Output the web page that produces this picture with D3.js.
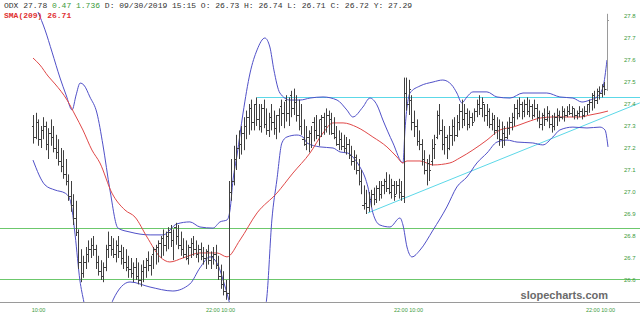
<!DOCTYPE html>
<html><head><meta charset="utf-8">
<script src="https://cdn.jsdelivr.net/npm/d3@7"></script>
<style>html,body{margin:0;padding:0;background:#fff;overflow:hidden}svg{display:block}</style>
</head><body>
<svg id="c" width="640" height="321"></svg>
<script>
// ---- data ----
const highs = [27.35,27.36,27.33,27.30,27.34,27.32,27.29,27.33,27.30,27.26,27.24,27.20,27.19,27.15,27.08,27.05,26.99,26.96,26.83,26.74,
26.71,26.75,26.78,26.79,26.80,26.76,26.71,26.69,26.68,26.76,26.82,26.80,26.79,26.78,26.80,26.76,26.75,26.74,26.71,26.70,
26.68,26.70,26.68,26.67,26.69,26.70,26.73,26.71,26.75,26.76,26.78,26.80,26.83,26.82,26.84,26.85,26.83,26.86,26.85,26.82,
26.79,26.78,26.76,26.79,26.80,26.78,26.76,26.77,26.75,26.74,26.76,26.73,26.75,26.76,26.71,26.67,26.64,26.60,27.05,27.15,
27.21,27.26,27.28,27.30,27.34,27.37,27.40,27.42,27.40,27.43,27.40,27.40,27.42,27.38,27.36,27.40,27.37,27.35,27.38,27.42,
27.41,27.44,27.43,27.46,27.47,27.44,27.42,27.40,27.33,27.30,27.28,27.30,27.34,27.35,27.33,27.35,27.36,27.38,27.37,27.36,
27.34,27.30,27.28,27.27,27.26,27.25,27.24,27.21,27.19,27.17,27.15,27.10,27.03,27.01,27.00,27.01,27.02,27.03,27.05,27.05,
27.06,27.09,27.08,27.06,27.05,27.05,27.06,27.05,27.52,27.52,27.51,27.44,27.37,27.33,27.28,27.24,27.19,27.15,27.17,27.24,
27.26,27.37,27.40,27.33,27.30,27.26,27.30,27.33,27.34,27.35,27.40,27.42,27.40,27.38,27.37,27.36,27.38,27.42,27.44,27.43,
27.40,27.40,27.38,27.36,27.35,27.34,27.33,27.32,27.30,27.32,27.34,27.36,27.40,27.42,27.43,27.41,27.42,27.43,27.42,27.40,
27.42,27.40,27.37,27.36,27.38,27.39,27.37,27.35,27.36,27.38,27.37,27.39,27.38,27.39,27.40,27.39,27.38,27.37,27.39,27.38,
27.39,27.40,27.42,27.45,27.46,27.47,27.48,27.49,27.50,27.81];
const lows = [27.22,27.24,27.21,27.20,27.24,27.19,27.15,27.21,27.18,27.15,27.12,27.09,27.06,27.03,26.96,26.91,26.85,26.80,26.65,26.59,
26.61,26.65,26.68,26.70,26.71,26.65,26.62,26.60,26.59,26.64,26.70,26.71,26.70,26.68,26.70,26.67,26.65,26.64,26.61,26.61,
26.59,26.60,26.58,26.57,26.59,26.61,26.64,26.62,26.65,26.67,26.68,26.70,26.71,26.73,26.74,26.75,26.69,26.76,26.74,26.71,
26.70,26.69,26.67,26.70,26.71,26.70,26.68,26.69,26.67,26.65,26.67,26.65,26.67,26.65,26.60,26.56,26.53,26.51,26.51,26.96,
27.03,27.10,27.15,27.17,27.19,27.24,27.26,27.28,27.28,27.30,27.28,27.27,27.29,27.26,27.25,27.28,27.26,27.24,27.27,27.30,
27.29,27.32,27.30,27.34,27.35,27.32,27.28,27.26,27.21,27.19,27.18,27.20,27.23,27.24,27.21,27.25,27.26,27.27,27.26,27.26,
27.24,27.21,27.19,27.19,27.18,27.17,27.15,27.12,27.10,27.08,27.03,26.99,26.92,26.90,26.91,26.93,26.94,26.95,26.96,26.97,
26.99,27.00,26.99,26.97,26.96,26.99,26.97,26.96,26.95,27.37,27.35,27.28,27.25,27.21,27.19,27.12,27.08,27.03,27.05,27.12,
27.15,27.24,27.26,27.19,27.17,27.15,27.19,27.21,27.23,27.25,27.28,27.29,27.30,27.28,27.29,27.30,27.32,27.34,27.35,27.34,
27.32,27.30,27.29,27.28,27.26,27.24,27.21,27.20,27.21,27.24,27.26,27.28,27.30,27.33,27.34,27.33,27.34,27.35,27.34,27.33,
27.34,27.32,27.29,27.28,27.30,27.32,27.29,27.27,27.28,27.30,27.32,27.33,27.32,27.34,27.35,27.34,27.33,27.33,27.34,27.33,
27.34,27.35,27.36,27.37,27.38,27.40,27.42,27.43,27.44,27.46];
const opens = [27.30,27.25,27.32,27.24,27.28,27.30,27.22,27.27,27.25,27.20,27.18,27.14,27.12,27.08,27.05,26.98,26.94,26.88,26.82,26.68,
26.63,26.68,26.72,26.74,26.76,26.74,26.68,26.64,26.62,26.66,26.74,26.76,26.74,26.72,26.76,26.73,26.70,26.68,26.66,26.65,
26.63,26.66,26.62,26.60,26.64,26.66,26.69,26.67,26.72,26.74,26.75,26.77,26.79,26.76,26.80,26.82,26.78,26.84,26.80,26.76,
26.74,26.72,26.70,26.75,26.77,26.74,26.72,26.74,26.71,26.70,26.73,26.69,26.71,26.72,26.67,26.62,26.58,26.55,26.54,27.00,
27.05,27.15,27.20,27.22,27.27,27.30,27.34,27.38,27.32,27.40,27.33,27.30,27.38,27.31,27.28,27.34,27.32,27.29,27.35,27.39,
27.36,27.42,27.36,27.44,27.38,27.41,27.35,27.30,27.24,27.22,27.25,27.27,27.32,27.28,27.26,27.33,27.34,27.30,27.35,27.33,
27.27,27.25,27.22,27.24,27.21,27.20,27.22,27.17,27.14,27.16,27.10,27.05,26.94,26.95,26.93,26.97,26.99,26.97,27.02,26.99,
27.03,27.05,27.02,27.00,27.03,26.99,27.03,27.00,26.98,27.45,27.40,27.42,27.32,27.30,27.23,27.22,27.15,27.10,27.13,27.14,
27.20,27.25,27.35,27.28,27.22,27.25,27.20,27.26,27.30,27.26,27.32,27.37,27.33,27.36,27.31,27.34,27.32,27.37,27.40,27.38,
27.40,27.35,27.37,27.31,27.33,27.28,27.30,27.24,27.27,27.25,27.29,27.32,27.34,27.38,27.36,27.40,27.37,27.40,27.37,27.39,
27.35,27.38,27.34,27.31,27.35,27.33,27.36,27.31,27.30,27.34,27.35,27.34,27.37,27.35,27.37,27.36,27.38,27.35,27.36,27.37,
27.35,27.37,27.40,27.41,27.44,27.42,27.46,27.45,27.48,27.47];
const closes = [27.25,27.32,27.24,27.28,27.30,27.22,27.27,27.25,27.20,27.18,27.14,27.12,27.08,27.05,26.98,26.94,26.88,26.82,26.68,26.63,
26.68,26.72,26.74,26.76,26.74,26.68,26.64,26.62,26.66,26.74,26.76,26.74,26.72,26.76,26.73,26.70,26.68,26.66,26.65,26.63,
26.66,26.62,26.60,26.64,26.66,26.69,26.67,26.72,26.74,26.75,26.77,26.79,26.76,26.80,26.82,26.78,26.84,26.80,26.76,26.74,
26.72,26.70,26.75,26.77,26.74,26.72,26.74,26.71,26.70,26.73,26.69,26.71,26.72,26.67,26.62,26.58,26.55,26.54,27.00,27.05,
27.15,27.20,27.22,27.27,27.30,27.34,27.38,27.32,27.40,27.33,27.30,27.38,27.31,27.28,27.34,27.32,27.29,27.35,27.39,27.36,
27.42,27.36,27.44,27.38,27.41,27.35,27.30,27.24,27.22,27.25,27.27,27.32,27.28,27.26,27.33,27.34,27.30,27.35,27.33,27.27,
27.25,27.22,27.24,27.21,27.20,27.22,27.17,27.14,27.16,27.10,27.05,26.94,26.95,26.93,26.97,26.99,26.97,27.02,26.99,27.03,
27.05,27.02,27.00,27.03,26.98,27.03,27.00,26.98,27.45,27.40,27.47,27.32,27.30,27.23,27.22,27.15,27.10,27.13,27.10,27.20,
27.22,27.35,27.28,27.22,27.25,27.20,27.26,27.30,27.26,27.32,27.37,27.33,27.36,27.31,27.34,27.32,27.37,27.40,27.38,27.41,
27.35,27.37,27.31,27.33,27.28,27.30,27.24,27.27,27.25,27.29,27.32,27.34,27.38,27.36,27.40,27.37,27.40,27.37,27.39,27.35,
27.38,27.34,27.31,27.35,27.33,27.36,27.31,27.30,27.34,27.35,27.34,27.37,27.35,27.37,27.36,27.38,27.35,27.36,27.37,27.35,
27.37,27.40,27.41,27.44,27.42,27.46,27.45,27.48,27.47,27.78];

// Bollinger bands and SMA as [bar index, value]
const upperBand = [[2,27.818],[4.8,27.737],[7.6,27.636],[10.8,27.518],[13.2,27.441],[15.6,27.373],[17.2,27.441],[18.8,27.495],[20.3,27.486],[22.7,27.432],
[25.5,27.359],[27.9,27.214],[30.7,27.009],[33.9,26.836],[38.7,26.818],[46.7,26.805],[51.9,26.805],[57.4,26.855],[62.6,26.864],[66.6,26.841],
[71.8,26.836],[74.6,26.864],[77.4,26.873],[78.6,26.918],[79.8,27.055],[81.4,27.168],[83.8,27.359],[86.6,27.541],[89.4,27.646],[92.5,27.700],
[94.5,27.659],[96.1,27.555],[98.5,27.450],[102.5,27.418],[106.5,27.418],[110.5,27.427],[115.7,27.432],[121.3,27.418],[125.2,27.373],[127.6,27.341],
[131.6,27.386],[134.4,27.427],[137.2,27.396],[139.6,27.327],[143.6,27.223],[147.6,27.132],[148.4,27.282],[150.4,27.450],[154.4,27.482],[159.6,27.500],
[163.5,27.509],[167.1,27.486],[169.1,27.450],[171.1,27.405],[173.1,27.432],[175.5,27.455],[181.1,27.455],[185.1,27.432],[190.3,27.427],[195.5,27.450],
[205.0,27.450],[210.2,27.432],[215.4,27.427],[219.0,27.409],[222.2,27.418],[225.0,27.432],[227.4,27.477],[229.0,27.600]];
const lowerBand = [[0,27.145],[4.8,27.032],[8.8,27.009],[12.8,26.995],[14.8,26.964],[15.6,26.918],[16.8,26.805],[18.7,26.600],[20.3,26.500],[22.7,26.373],
[26.7,26.305],[29.9,26.418],[31.9,26.509],[38.7,26.591],[46.7,26.568],[55.8,26.550],[62.6,26.582],[66.6,26.655],[70.6,26.705],[73.8,26.668],
[76.2,26.586],[78.6,26.486],[82.6,26.236],[88.6,26.236],[91.7,26.418],[93.3,26.523],[95.3,26.873],[97.3,27.055],[99.3,27.223],[101.3,27.250],
[105.3,27.259],[107.7,27.250],[109.3,27.223],[114.5,27.205],[119.7,27.200],[122.5,27.182],[125.6,27.177],[127.6,27.159],[130.4,27.114],[132.4,27.068],
[133.6,27.023],[135.6,26.905],[138.4,26.850],[142.4,26.841],[146.4,26.882],[147.6,26.850],[149.2,26.750],[151.2,26.705],[154.4,26.736],[159.6,26.827],
[165.1,26.932],[169.1,27.023],[173.1,27.068],[177.1,27.132],[181.1,27.177],[185.1,27.227],[189.1,27.236],[193.1,27.227],[199.4,27.223],[203.4,27.214],
[207.4,27.250],[210.2,27.282],[215.4,27.295],[221.0,27.291],[226.2,27.295],[228.2,27.282],[229.4,27.205]];
const smaLine = [[0,27.609],[2.8,27.577],[6.0,27.527],[8.8,27.491],[13.6,27.418],[16.8,27.350],[19.9,27.282],[23.5,27.191],[26.7,27.132],[31.5,26.995],
[36.7,26.918],[40.7,26.886],[45.5,26.795],[50.7,26.705],[54.6,26.682],[59.8,26.700],[66.6,26.723],[73.4,26.723],[77.4,26.705],[82.6,26.782],
[89.4,26.905],[97.3,26.995],[103.7,27.086],[110.5,27.177],[115.7,27.268],[119.7,27.314],[123.7,27.314],[129.2,27.295],[135.6,27.250],[141.2,27.205],
[145.2,27.159],[147.6,27.132],[149.2,27.141],[154.4,27.141],[159.6,27.123],[166.3,27.132],[170.3,27.155],[175.5,27.191],[181.1,27.236],[186.3,27.282],
[191.5,27.295],[197.1,27.318],[202.3,27.336],[207.4,27.341],[213.0,27.341],[218.2,27.341],[222.2,27.350],[226.2,27.359],[229.4,27.368]];

const greenLevels = [26.836, 26.605];
const resistanceLevel = 27.43, resistanceStartIdx = 89.4;
const trendIdx = [133.6, 242.1];
const trendVal = [26.905, 27.405];
const yTicks = [26.6,26.7,26.8,26.9,27.0,27.1,27.2,27.3,27.4,27.5,27.6,27.7,27.8];
const xTickIdx = [2, 74.6, 149.6, 226.2];
const xTickLabels = ["10:00", "22:00 10:00", "22:00 10:00", "22:00 10:00"];
const header1 = [["ODX 27.78 ","#333"],["0.47 1.736 ","#3a9a3a"],["D: 09/30/2019 15:15 O: 26.73 H: 26.74 L: 26.71 C: 26.72 Y: 27.29","#333"]];
const header2 = "SMA(209) 26.71";

// ---- drawing ----
const W = 640, H = 321;
const svg = d3.select("#c");
const N = highs.length;
const x = d3.scaleLinear().domain([0, N - 1]).range([33, 607]);
const y = d3.scaleLinear().domain([26.5, 27.8]).range([302, 16]);

svg.append("defs").append("clipPath").attr("id","plot")
  .append("rect").attr("x",0).attr("y",0).attr("width",W).attr("height",302);
const g = svg.append("g").attr("clip-path","url(#plot)");

// horizontal green levels
g.selectAll("line.lvl").data(greenLevels).join("line")
  .attr("x1",0).attr("x2",W)
  .attr("y1",d=>Math.round(y(d))+0.5).attr("y2",d=>Math.round(y(d))+0.5)
  .attr("stroke","#6cc86c").attr("stroke-width",1);

// resistance (cyan)
g.append("line")
  .attr("x1",x(resistanceStartIdx)).attr("x2",W)
  .attr("y1",Math.round(y(resistanceLevel))+0.5).attr("y2",Math.round(y(resistanceLevel))+0.5)
  .attr("stroke","#5cd8e8").attr("stroke-width",1);

// trend line (cyan)
g.append("line")
  .attr("x1",x(trendIdx[0])).attr("y1",y(trendVal[0]))
  .attr("x2",x(trendIdx[1])).attr("y2",y(trendVal[1]))
  .attr("stroke","#5cd8e8").attr("stroke-width",1);

const line = d3.line().x(d=>x(d[0])).y(d=>y(d[1])).curve(d3.curveMonotoneX);
g.append("path").attr("d",line(upperBand)).attr("fill","none").attr("stroke","#5050c8").attr("stroke-width",1);
g.append("path").attr("d",line(lowerBand)).attr("fill","none").attr("stroke","#5050c8").attr("stroke-width",1);
g.append("path").attr("d",line(smaLine)).attr("fill","none").attr("stroke","#e04848").attr("stroke-width",1);

// OHLC bars
const idx = d3.range(N);
g.selectAll("path.bar").data(idx).join("path")
  .attr("class","bar")
  .attr("d", i => {
    const px = Math.round(x(i)) + 0.5;
    return `M${px},${y(highs[i])}V${y(lows[i])}` +
           `M${px-1.5},${Math.round(y(opens[i]))+0.5}H${px-0.5}` +
           `M${px+0.5},${Math.round(y(closes[i]))+0.5}H${px+1.5}`;
  })
  .attr("fill","none")
  .attr("stroke", i => i === N - 1 ? "#9a9a9a" : "#404040")
  .attr("stroke-width",1);

// bottom axis line
svg.append("line").attr("x1",0).attr("x2",W).attr("y1",302.5).attr("y2",302.5)
  .attr("stroke","#9a9a9a").attr("stroke-width",1);

// y axis (right)
const yAxis = svg.append("g").attr("transform","translate(622,0)")
  .call(d3.axisRight(y).tickValues(yTicks).tickSize(0).tickPadding(2).tickFormat(d3.format(".1f")));
yAxis.select(".domain").remove();
yAxis.selectAll("text").attr("fill","#3c9a3c").style("font-family","'Liberation Sans',Arial,sans-serif").style("font-size","6px");

// x axis
const xAxis = svg.append("g").attr("transform","translate(0,306)")
  .call(d3.axisBottom(x).tickValues(xTickIdx).tickSize(0).tickPadding(2).tickFormat((d,i)=>xTickLabels[i]));
xAxis.select(".domain").remove();
xAxis.selectAll("text").attr("fill","#3c9a3c").style("font-family","'Liberation Sans',Arial,sans-serif").style("font-size","5.5px");

// header
const h1 = svg.append("text").attr("x",4).attr("y",8)
  .style("font-family","'Liberation Mono','DejaVu Sans Mono',monospace").style("font-size","8px");
h1.selectAll("tspan").data(header1).join("tspan").attr("fill",d=>d[1]).attr("xml:space","preserve").text(d=>d[0]);
svg.append("text").attr("x",4).attr("y",18).attr("fill","#e03030")
  .style("font-family","'Liberation Mono','DejaVu Sans Mono',monospace").style("font-size","8px").style("font-weight","bold")
  .text(header2);

// watermark
svg.append("text").attr("x",608).attr("y",299).attr("text-anchor","end")
  .attr("fill","#6a6a6a").style("font-family","'Liberation Sans',Arial,sans-serif")
  .style("font-size","11px").style("font-weight","bold").text("slopecharts.com");
</script>
</body></html>
